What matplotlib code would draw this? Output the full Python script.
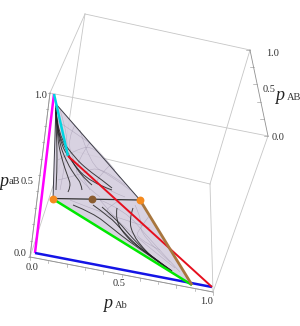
import numpy as np
import matplotlib
matplotlib.use('Agg')
import matplotlib.pyplot as plt
from matplotlib.path import Path
from matplotlib.patches import PathPatch

plt.rcParams['font.family'] = ['Liberation Serif', 'DejaVu Serif']

# everything, projected positions of the 3d box
A = (30, 257)
B = (213, 292)
C = (50, 93)
G = (268, 136)
T = (85, 14)
U = (250, 50)
F = (210, 184)
E = (65, 149)
box_edges = [(A, E), (E, F), (F, B), (E, T), (T, U), (U, F), (T, C), (C, G), (G, B), (A, C), (A, B)]
axis_edges = [(A, B, np.arange(0, 1.01, 0.1), (0, 2.5)),
              (A, C, np.arange(0, 1.01, 0.1), (-2.5, 0)),
              (G, U, np.arange(0, 1.01, 0.2), (-4, 0))]

surf_x = [56, 140, 192, 53]
surf_y = [104, 200, 284, 199]

mesh = [[(56, 120), (78, 135), (100, 150), (120, 178)], [(60, 110), (68, 135), (66, 160), (60, 190)],
        [(75, 125), (68, 138), (72, 160), (90, 190)], [(90, 142), (78, 160), (75, 178), (100, 197)],
        [(110, 165), (100, 175), (95, 185), (125, 197)], [(70, 200), (90, 208), (110, 215), (150, 228)],
        [(100, 200), (115, 218), (130, 232), (175, 268)], [(135, 205), (142, 220), (140, 235), (170, 262)],
        [(120, 200), (110, 206), (105, 212), (120, 228)], [(150, 215), (140, 228), (135, 238), (160, 250)],
        [(58, 160), (75, 150), (95, 145), (115, 170)], [(80, 130), (90, 165), (110, 175), (130, 190)],
        [(58, 180), (80, 175), (100, 165), (125, 185)], [(100, 200), (125, 210), (150, 240), (180, 272)]]

magenta_x, magenta_y = [35, 54], [253, 94]
blue_x, blue_y = [35, 212], [253, 287]
cyan_x, cyan_y = [54, 68], [94, 156]
red_x, red_y = [68, 212], [156, 287]
green_x, green_y = [53, 192], [199, 285]
brown_x, brown_y = [140, 192], [200, 285]
black_x, black_y = [53, 140], [198.5, 200]

orange_x, orange_y = [53, 140], [198.5, 200]
dot_x, dot_y = [92], [198.5]

traj_up = [[(56, 106), (56, 123), (57, 147), (57, 170), (56, 190)],
           [(56, 110), (57, 137), (62, 160), (68, 177), (71, 186), (68, 192)],
           [(56, 112), (58, 140), (67, 163), (76, 177), (81, 183), (82, 190)],
           [(56, 112), (58, 139), (72, 163), (90, 182), (112, 190)],
           [(56, 110), (58, 135), (75, 158), (88, 170), (102, 180), (112, 188)],
           [(56, 108), (57, 130), (66, 150), (80, 175), (92, 185)]]
traj_down = [[(73, 205), (93, 213), (112, 228), (127, 240), (150, 256), (170, 270)],
             [(93, 205), (110, 217), (122, 230), (133, 242), (150, 256), (170, 270)],
             [(102, 207), (117, 220), (128, 233), (137, 243), (152, 257), (170, 270)],
             [(117, 208), (115, 220), (127, 238), (140, 248), (157, 260), (172, 271)],
             [(133, 208), (129, 220), (133, 235), (143, 248), (153, 258), (172, 271)]]

tick_labels = [('1.0', 47, 95, 'right'), ('0.0', 26, 253, 'right'), ('0.0', 32, 267, 'center'),
               ('0.5', 119, 284, 'center'), ('1.0', 207, 301, 'center'), ('1.0', 266, 53, 'left'),
               ('0.5', 263, 89, 'left'), ('0.0', 272, 137, 'left'), ('0.5', 34, 182, 'right')]
axis_labels = [('aB', 9, 182), ('Ab', 115, 305), ('AB', 287, 97)]
p_labels = [(4, 181), (108, 303), (280, 95)]


def smooth(ax, pts, **kw):
    # quadratic curve through the midpoints so the read points do not show as corners
    pts = np.array(pts, dtype=float)
    verts = [pts[0]]
    codes = [Path.MOVETO]
    for i in range(1, len(pts) - 1):
        end = pts[-1] if i == len(pts) - 2 else (pts[i] + pts[i + 1]) / 2
        verts += [pts[i], end]
        codes += [Path.CURVE3, Path.CURVE3]
    ax.add_patch(PathPatch(Path(verts, codes), fill=False, **kw))


fig = plt.figure(figsize=(3, 3.26), dpi=100)
ax = fig.add_axes([0, 0, 1, 1])
ax.set_xlim(0, 300)
ax.set_ylim(326, 0)
ax.axis('off')

for a, b in box_edges:
    ax.plot([a[0], b[0]], [a[1], b[1]], color='#c6c6c6', lw=0.6, zorder=1)

for a, b, ticks, off in axis_edges:
    ax.plot([a[0], b[0]], [a[1], b[1]], color='#909090', lw=0.6, zorder=1.5)
    for t in ticks:
        px = a[0] + t * (b[0] - a[0])
        py = a[1] + t * (b[1] - a[1])
        ax.plot([px, px + off[0]], [py, py + off[1]], color='#909090', lw=0.4, zorder=1.5)

ax.fill(surf_x, surf_y, color='#d4cdde', alpha=0.9, lw=0, zorder=2)
for m in mesh:
    smooth(ax, m, edgecolor='#9a90a8', lw=0.4, alpha=0.55, zorder=2.2)
ax.plot([surf_x[3], surf_x[0], surf_x[1]], [surf_y[3], surf_y[0], surf_y[1]], color='#3a3a44', lw=0.7, zorder=3)

for tr in traj_up + traj_down:
    smooth(ax, tr, edgecolor='#222222', lw=0.7, alpha=0.85, zorder=3)

ax.plot(black_x, black_y, color='#333333', lw=0.9, zorder=3)
ax.plot(magenta_x, magenta_y, color='#ff00ff', lw=1.8, zorder=4, solid_capstyle='butt')
ax.plot(blue_x, blue_y, color='#1414e6', lw=1.8, zorder=4, solid_capstyle='butt')
ax.plot(cyan_x, cyan_y, color='#00d4e0', lw=1.8, zorder=4, solid_capstyle='butt')
ax.plot(red_x, red_y, color='#e60f1e', lw=1.4, zorder=4, solid_capstyle='butt')
ax.plot(green_x, green_y, color='#00e800', lw=1.8, zorder=4, solid_capstyle='butt')
ax.plot(brown_x, brown_y, color='#a8763e', lw=2.0, zorder=5, solid_capstyle='butt')
ax.scatter(orange_x, orange_y, s=32, color='#f58a1e', lw=0, zorder=6)
ax.scatter(dot_x, dot_y, s=32, color='#8a5c30', lw=0, zorder=6)

for txt, x, y, ha in tick_labels:
    ax.text(x, y, txt, fontsize=7.5, color='#333333', ha=ha, va='center', zorder=7)
for x, y in p_labels:
    ax.text(x, y, 'p', fontsize=13, style='italic', color='#222222', ha='center', va='center', zorder=7)
for txt, x, y in axis_labels:
    ax.text(x, y, txt, fontsize=7.5, color='#333333', ha='left', va='center', zorder=7)

fig.savefig('out.png', dpi=100)
